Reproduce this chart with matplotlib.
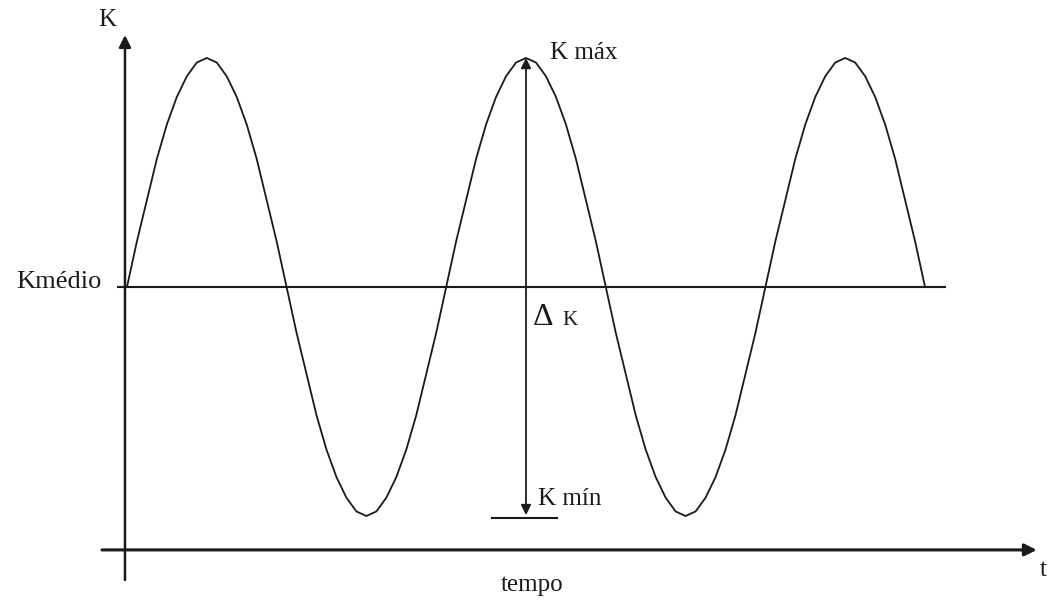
import matplotlib
matplotlib.use("Agg")
import matplotlib.pyplot as plt

# time in eighth-quarter periods, K relative to the mean (amplitude = 1)
t = [i * 0.125 for i in range(81)]
k_vals = [0, .20, .38, .56, .71, .83, .92, .98, 1, .98, .92, .83, .71, .56, .38, .20,
          0, -.20, -.38, -.56, -.71, -.83, -.92, -.98, -1, -.98, -.92, -.83, -.71, -.56, -.38, -.20,
          0, .20, .38, .56, .71, .83, .92, .98, 1, .98, .92, .83, .71, .56, .38, .20,
          0, -.20, -.38, -.56, -.71, -.83, -.92, -.98, -1, -.98, -.92, -.83, -.71, -.56, -.38, -.20,
          0, .20, .38, .56, .71, .83, .92, .98, 1, .98, .92, .83, .71, .56, .38, .20,
          0]
k_medio = 0
k_max = 1
k_min = -1
t_delta = 5

plt.rcParams['font.family'] = ['Liberation Serif', 'DejaVu Serif']
col = '#1a1a1a'

fig = plt.figure(figsize=(10.5, 6.01), dpi=100)
ax = fig.add_axes([0, 0, 1, 1])
ax.set_xlim(-1.591, 11.566)
ax.set_ylim(-1.371, 1.253)
ax.axis('off')

# curve and mean line
ax.plot(t, k_vals, color=col, lw=1.3)
ax.plot([-0.11, 10.25], [k_medio, k_medio], color=col, lw=1.5)

# axes with arrows
ax.annotate('', xy=(-0.025, 1.10), xytext=(-0.025, -1.279),
            arrowprops=dict(arrowstyle='-|>', color=col, lw=1.8, mutation_scale=18,
                            shrinkA=0, shrinkB=0))
ax.annotate('', xy=(11.40, -1.148), xytext=(-0.313, -1.148),
            arrowprops=dict(arrowstyle='-|>', color=col, lw=2.2, mutation_scale=18,
                            shrinkA=0, shrinkB=0))

# delta K double arrow and Kmin marker
ax.annotate('', xy=(t_delta, k_max), xytext=(t_delta, k_min + 0.004),
            arrowprops=dict(arrowstyle='<|-|>', color=col, lw=1.3, mutation_scale=15,
                            shrinkA=0, shrinkB=0))
ax.plot([4.574, 5.388], [k_min - 0.009, k_min - 0.009], color=col, lw=1.5)

# labels
ax.text(-0.25, 1.165, 'K', fontsize=18, color=col, ha='center', va='center')
ax.text(-0.313, 0.02, 'Kmédio', fontsize=19, color=col, ha='right', va='center')
ax.text(5.30, 1.02, 'K máx', fontsize=18, color=col, ha='left', va='center')
ax.text(5.09, -0.166, 'Δ', fontsize=23, color=col, ha='left', va='baseline')
ax.text(5.46, -0.166, 'K', fontsize=15, color=col, ha='left', va='baseline')
ax.text(5.15, -0.925, 'K mín', fontsize=18, color=col, ha='left', va='center')
ax.text(5.07, -1.30, 'tempo', fontsize=18, color=col, ha='center', va='center')
ax.text(11.48, -1.235, 't', fontsize=18, color=col, ha='center', va='center')

fig.savefig('out.png', dpi=100)
